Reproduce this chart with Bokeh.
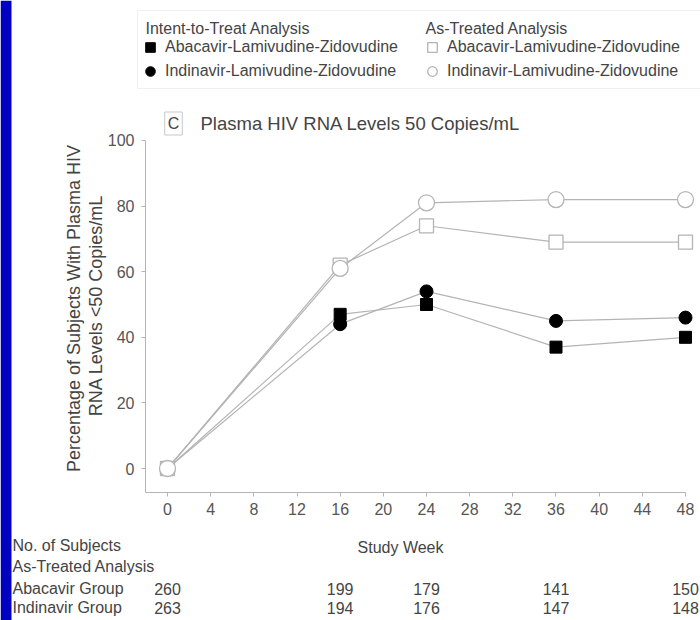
import math

from bokeh.core.properties import value
from bokeh.embed import file_html
from bokeh.models import (BoxAnnotation, ColumnDataSource, FixedTicker, Label,
                          LabelSet, Legend, LegendItem, Range1d)
from bokeh.plotting import figure
from bokeh.resources import INLINE

# --- data ---------------------------------------------------------------
weeks = [0, 16, 24, 36, 48]

# percentage of subjects with plasma HIV RNA < 50 copies/mL
abacavir_itt = [0, 47, 50, 37, 40]
indinavir_itt = [0, 44, 54, 45, 46]
abacavir_at = [0, 62, 74, 69, 69]
indinavir_at = [0, 61, 81, 82, 82]

x_ticks = [0, 4, 8, 12, 16, 20, 24, 28, 32, 36, 40, 44, 48]
y_ticks = [0, 20, 40, 60, 80, 100]

# number of subjects, as-treated analysis
n_abacavir = [260, 199, 179, 141, 150]
n_indinavir = [263, 194, 176, 147, 148]

series_names = ["Abacavir-Lamivudine-Zidovudine", "Indinavir-Lamivudine-Zidovudine"]

# --- geometry -----------------------------------------------------------
W, H = 700, 620
# the plot frame fills the whole canvas; axes sit at fixed data locations
X_START, X_END = -15.475, 49.39
Y_START, Y_END = -46.34, 142.68
X_AXIS_AT = -2.0386   # where the y axis is drawn (in weeks)
Y_AXIS_AT = -7.317    # where the x axis is drawn (in percent)

FONT = "Liberation Sans"
TEXT = "#444444"
GREY = "#b4b4b4"

p = figure(
    width=W, height=H,
    output_backend="svg", toolbar_location=None,
    x_range=Range1d(X_START, X_END), y_range=Range1d(Y_START, Y_END),
    min_border=0,
)
p.background_fill_color = "white"
p.border_fill_color = "white"
p.outline_line_color = None
p.xgrid.visible = False
p.ygrid.visible = False

p.xaxis.ticker = FixedTicker(ticks=x_ticks)
p.yaxis.ticker = FixedTicker(ticks=y_ticks)
p.xaxis.fixed_location = Y_AXIS_AT
p.yaxis.fixed_location = X_AXIS_AT
p.xaxis.bounds = (X_AXIS_AT, 48)
p.yaxis.bounds = (Y_AXIS_AT, 100)
for ax in (p.xaxis[0], p.yaxis[0]):
    ax.axis_line_color = GREY
    ax.axis_line_width = 1
    ax.major_tick_line_color = GREY
    ax.minor_tick_line_color = None
    ax.major_tick_in = 0
    ax.major_tick_out = 4
    ax.major_label_text_font = FONT
    ax.major_label_text_font_size = "16px"
    ax.major_label_text_color = "#555555"
p.xaxis.major_label_standoff = 6
p.yaxis.major_label_standoff = 7

# --- lines and markers --------------------------------------------------
for vals in (abacavir_itt, indinavir_itt, abacavir_at, indinavir_at):
    p.line(weeks, vals, line_color=GREY, line_width=1.2)

r_abc_itt = p.scatter(weeks, abacavir_itt, marker="square", size=12,
                      fill_color="black", line_color="black")
r_idv_itt = p.scatter(weeks, indinavir_itt, marker="circle", size=13,
                      fill_color="black", line_color="black")
r_abc_at = p.scatter(weeks, abacavir_at, marker="square", size=14,
                     fill_color="white", line_color=GREY, line_width=1.3)
r_idv_at = p.scatter(weeks, indinavir_at, marker="circle", size=16,
                     fill_color="white", line_color=GREY, line_width=1.3)

# --- legend -------------------------------------------------------------
legend_style = dict(
    glyph_width=28, glyph_height=24, spacing=0, padding=0, margin=0,
    label_standoff=1, border_line_color=None, background_fill_alpha=0,
    label_text_font=FONT, label_text_font_size="16px", label_text_color=TEXT,
)
leg_itt = Legend(items=[LegendItem(label=series_names[0], renderers=[r_abc_itt]),
                        LegendItem(label=series_names[1], renderers=[r_idv_itt])],
                 location=(136, 537), **legend_style)
leg_at = Legend(items=[LegendItem(label=series_names[0], renderers=[r_abc_at]),
                       LegendItem(label=series_names[1], renderers=[r_idv_at])],
                location=(418, 537), **legend_style)
p.add_layout(leg_itt)
p.add_layout(leg_at)

p.add_layout(BoxAnnotation(left=137, right=712, top=610, bottom=532,
                           left_units="screen", right_units="screen",
                           top_units="screen", bottom_units="screen",
                           fill_alpha=0, line_color="#cccccc", line_width=1))


def text(x, y, s, size="16px", align="left", angle=0.0, **kw):
    """Place a text label; x, y are pixels from the canvas' left / top."""
    lbl = Label(x=x, y=H - y, x_units="screen", y_units="screen", text=s,
                text_font=FONT, text_font_size=size, text_color=TEXT,
                text_align=align, text_baseline="middle", angle=angle, **kw)
    p.add_layout(lbl)
    return lbl


text(145, 28, "Intent-to-Treat Analysis")
text(425, 28, "As-Treated Analysis")

# panel letter and subtitle
text(173, 123, "C", align="center", border_line_color="#c8c8c8",
     background_fill_color="white", padding=3)
text(200, 123, "Plasma HIV RNA Levels  50 Copies/mL", size="18.5px")

# y-axis title, two lines
text(73, 308, "Percentage of Subjects With Plasma HIV", size="18px",
     align="center", angle=math.pi / 2)
text(95, 305, "RNA Levels <50 Copies/mL", size="18px",
     align="center", angle=math.pi / 2)

# x-axis title and subject-count table
text(400, 547, "Study Week", align="center")
text(12, 545, "No. of Subjects")
text(12, 566, "As-Treated Analysis")
text(12, 588, "Abacavir Group")
text(12, 607, "Indinavir Group")

counts = ColumnDataSource(dict(
    week=weeks,
    abc=[str(v) for v in n_abacavir],
    idv=[str(v) for v in n_indinavir],
    y_abc=[H - 588] * len(weeks),
    y_idv=[H - 607] * len(weeks),
))
for col, ycol in (("abc", "y_abc"), ("idv", "y_idv")):
    p.add_layout(LabelSet(x="week", y=ycol, text=col, source=counts,
                          x_units="data", y_units="screen",
                          text_font=value(FONT), text_font_size=value("16px"),
                          text_color=TEXT, text_align="center",
                          text_baseline="middle"))

# blue margin strip on the left edge
p.add_layout(BoxAnnotation(left=0, right=11, top=H, bottom=0,
                           left_units="screen", right_units="screen",
                           top_units="screen", bottom_units="screen",
                           fill_color="#0000c0", fill_alpha=1, line_alpha=0))

open("out.html", "w").write(file_html(p, INLINE))
